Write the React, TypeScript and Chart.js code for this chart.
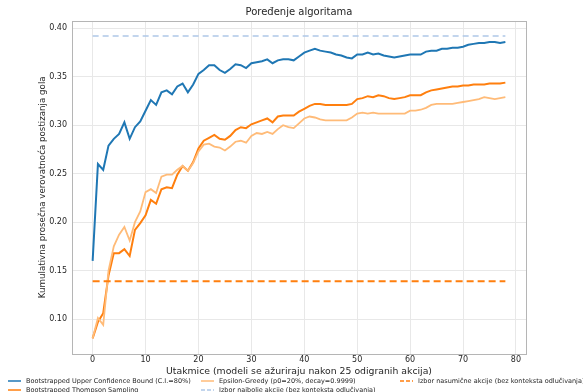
import React, { useEffect, useRef } from "react";
import { Chart, registerables } from "chart.js";

Chart.register(...registerables);

// Match index (x axis)
const games: number[] = Array.from({ length: 79 }, (_, i) => i);

// Cumulative average probability of scoring per algorithm
const ucbValues = [
  0.160, 0.260, 0.254, 0.279, 0.286, 0.291, 0.303, 0.286, 0.298, 0.304,
  0.315, 0.326, 0.321, 0.334, 0.336, 0.332, 0.340, 0.343, 0.334, 0.342,
  0.353, 0.357, 0.362, 0.362, 0.357, 0.354, 0.358, 0.363, 0.362, 0.359,
  0.364, 0.365, 0.366, 0.368, 0.364, 0.367, 0.368, 0.368, 0.367, 0.371,
  0.375, 0.377, 0.379, 0.377, 0.376, 0.375, 0.373, 0.372, 0.370, 0.369,
  0.373, 0.373, 0.375, 0.373, 0.374, 0.372, 0.371, 0.370, 0.371, 0.372,
  0.373, 0.373, 0.373, 0.376, 0.377, 0.377, 0.379, 0.379, 0.380, 0.380,
  0.381, 0.383, 0.384, 0.385, 0.385, 0.386, 0.386, 0.385, 0.386,
];

const thompsonValues = [
  0.080, 0.097, 0.106, 0.145, 0.168, 0.168, 0.172, 0.165, 0.192, 0.199,
  0.207, 0.223, 0.219, 0.234, 0.236, 0.235, 0.249, 0.258, 0.253, 0.262,
  0.276, 0.284, 0.287, 0.290, 0.286, 0.285, 0.289, 0.295, 0.298, 0.297,
  0.301, 0.303, 0.305, 0.307, 0.303, 0.309, 0.310, 0.310, 0.310, 0.314,
  0.317, 0.320, 0.322, 0.322, 0.321, 0.321, 0.321, 0.321, 0.321, 0.322,
  0.327, 0.328, 0.330, 0.329, 0.331, 0.330, 0.328, 0.327, 0.328, 0.329,
  0.331, 0.331, 0.331, 0.334, 0.336, 0.337, 0.338, 0.339, 0.340, 0.340,
  0.341, 0.341, 0.342, 0.342, 0.342, 0.343, 0.343, 0.343, 0.344,
];

const epsilonValues = [
  0.080, 0.101, 0.094, 0.150, 0.175, 0.187, 0.195, 0.181, 0.200, 0.211,
  0.231, 0.234, 0.230, 0.247, 0.249, 0.249, 0.254, 0.258, 0.253, 0.261,
  0.273, 0.280, 0.281, 0.278, 0.277, 0.274, 0.278, 0.283, 0.284, 0.282,
  0.289, 0.292, 0.291, 0.293, 0.291, 0.296, 0.300, 0.298, 0.297, 0.302,
  0.307, 0.309, 0.308, 0.306, 0.305, 0.305, 0.305, 0.305, 0.305, 0.308,
  0.312, 0.313, 0.312, 0.313, 0.312, 0.312, 0.312, 0.312, 0.312, 0.312,
  0.315, 0.315, 0.316, 0.318, 0.321, 0.322, 0.322, 0.322, 0.322, 0.323,
  0.324, 0.325, 0.326, 0.327, 0.329, 0.328, 0.327, 0.328, 0.329,
];

// Context-free baselines
const bestActionValue = 0.392;
const randomActionValue = 0.139;

const xTicks = [0, 10, 20, 30, 40, 50, 60, 70, 80];
const yTicks = [0.1, 0.15, 0.2, 0.25, 0.3, 0.35, 0.4];

const seriesLabels = [
  "Bootstrapped Upper Confidence Bound (C.I.=80%)",
  "Bootstrapped Thompson Sampling",
  "Epsilon-Greedy (p0=20%, decay=0.9999)",
  "Izbor najbolje akcije (bez konteksta odlučivanja)",
  "Izbor nasumične akcije (bez konteksta odlučivanja)",
];

const FONT = '"DejaVu Sans", sans-serif';
const TEXT = "#262626";

// Legend grid: three columns, filled column by column (x = start of handle)
const legendSlots = [
  { x: 8, y: 381 },
  { x: 8, y: 390 },
  { x: 201, y: 381 },
  { x: 201, y: 390 },
  { x: 400, y: 381 },
];
const HANDLE_LEN = 13;
const HANDLE_GAP = 5;

const frameAndLegend = {
  id: "frameAndLegend",
  beforeDatasetsDraw(chart: any) {
    const { ctx, chartArea } = chart;
    ctx.save();
    ctx.strokeStyle = "#b5b5b5";
    ctx.lineWidth = 1;
    ctx.strokeRect(
      Math.round(chartArea.left) + 0.5,
      Math.round(chartArea.top) + 0.5,
      Math.round(chartArea.right - chartArea.left),
      Math.round(chartArea.bottom - chartArea.top)
    );
    ctx.restore();
  },
  afterDraw(chart: any) {
    const { ctx } = chart;
    ctx.save();
    ctx.font = `6.5px ${FONT}`;
    ctx.textBaseline = "middle";
    chart.data.datasets.forEach((ds: any, i: number) => {
      const slot = legendSlots[i];
      ctx.beginPath();
      ctx.strokeStyle = ds.borderColor;
      ctx.lineWidth = 1.5;
      ctx.setLineDash(ds.borderDash && ds.borderDash.length ? [4, 2] : []);
      ctx.moveTo(slot.x, slot.y);
      ctx.lineTo(slot.x + HANDLE_LEN, slot.y);
      ctx.stroke();
      ctx.setLineDash([]);
      ctx.fillStyle = TEXT;
      ctx.fillText(ds.label, slot.x + HANDLE_LEN + HANDLE_GAP, slot.y);
    });
    ctx.restore();
  },
};

const toPoints = (vals: number[]) => games.map((g, i) => ({ x: g, y: vals[i] }));
const constant = (v: number) => games.map((g) => ({ x: g, y: v }));

export default function App() {
  const canvasRef = useRef<HTMLCanvasElement | null>(null);

  useEffect(() => {
    document.body.style.margin = "0";
    const canvas = canvasRef.current;
    if (!canvas) return;

    const chart = new Chart(canvas, {
      type: "line",
      data: {
        datasets: [
          {
            label: seriesLabels[0],
            data: toPoints(ucbValues),
            borderColor: "#1f77b4",
            borderWidth: 2,
            pointRadius: 0,
            tension: 0,
            order: 5,
          },
          {
            label: seriesLabels[1],
            data: toPoints(thompsonValues),
            borderColor: "#ff7f0e",
            borderWidth: 2,
            pointRadius: 0,
            tension: 0,
            order: 4,
          },
          {
            label: seriesLabels[2],
            data: toPoints(epsilonValues),
            borderColor: "#ffbb78",
            borderWidth: 1.8,
            pointRadius: 0,
            tension: 0,
            order: 3,
          },
          {
            label: seriesLabels[3],
            data: constant(bestActionValue),
            borderColor: "#aec7e8",
            borderWidth: 1.5,
            borderDash: [6, 4],
            pointRadius: 0,
            order: 2,
          },
          {
            label: seriesLabels[4],
            data: constant(randomActionValue),
            borderColor: "#ff7f0e",
            borderWidth: 2,
            borderDash: [7, 4],
            pointRadius: 0,
            order: 1,
          },
        ],
      },
      options: {
        animation: false,
        responsive: false,
        devicePixelRatio: 1,
        layout: { padding: { left: 0, right: 57, top: 0, bottom: 0 } },
        plugins: {
          legend: { display: false },
          tooltip: { enabled: false },
          title: {
            display: true,
            text: "Poređenje algoritama",
            fullSize: false,
            color: TEXT,
            font: { family: FONT, size: 10, weight: "normal" },
            padding: { top: 6, bottom: 3 },
          },
        },
        scales: {
          x: {
            type: "linear",
            min: -3.9,
            max: 81.9,
            afterBuildTicks: (s: any) => {
              s.ticks = xTicks.map((v) => ({ value: v }));
            },
            afterFit: (s: any) => {
              s.height = 38.5;
            },
            grid: { color: "#e8e8e8", drawTicks: false },
            border: { display: false },
            ticks: {
              autoSkip: false,
              maxRotation: 0,
              padding: 2,
              color: TEXT,
              font: { family: FONT, size: 8 },
              callback: (v: any) => String(v),
            },
            title: {
              display: true,
              text: "Utakmice (modeli se ažuriraju nakon 25 odigranih akcija)",
              color: TEXT,
              font: { family: FONT, size: 9.3 },
              padding: { top: 0, bottom: 15 },
            },
          },
          y: {
            type: "linear",
            min: 0.0644,
            max: 0.4076,
            afterBuildTicks: (s: any) => {
              s.ticks = yTicks.map((v) => ({ value: v }));
            },
            afterFit: (s: any) => {
              s.width = 72;
            },
            grid: { color: "#e8e8e8", drawTicks: false },
            border: { display: false },
            ticks: {
              autoSkip: false,
              padding: 5,
              color: TEXT,
              font: { family: FONT, size: 8 },
              callback: (v: any) => Number(v).toFixed(2),
            },
            title: {
              display: true,
              text: "Kumulativna prosečna verovatnoća postizanja gola",
              color: TEXT,
              font: { family: FONT, size: 8.7 },
              padding: { top: 38, bottom: 0 },
            },
          },
        },
      },
      plugins: [frameAndLegend],
    });

    return () => chart.destroy();
  }, []);

  return (
    <div style={{ width: 583, height: 392, position: "relative", background: "#fff" }}>
      <canvas ref={canvasRef} width={583} height={392} style={{ display: "block" }} />
    </div>
  );
}
